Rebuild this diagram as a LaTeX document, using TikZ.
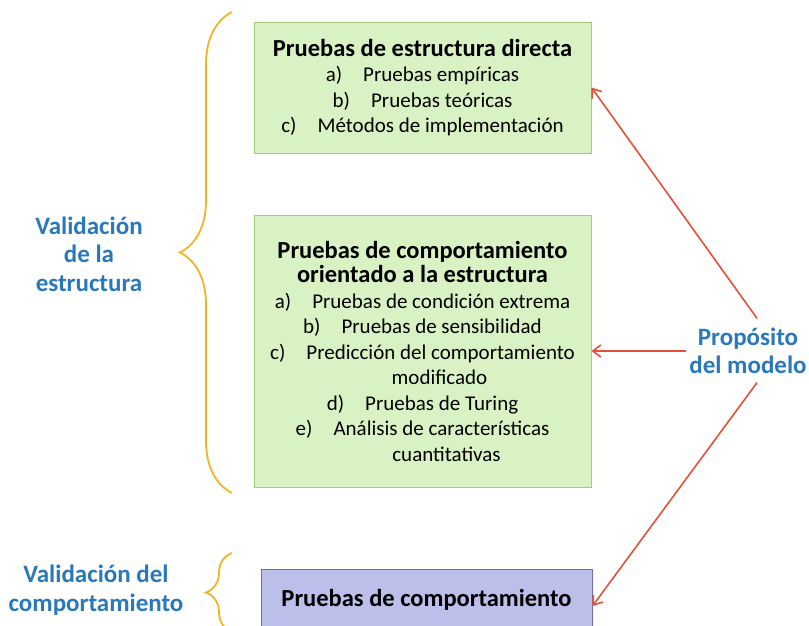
\documentclass[tikz,border=0pt]{standalone}
\usepackage{fontspec}
\setmainfont{Carlito}
\usepackage{xcolor}
\usepackage{tikz}
\usetikzlibrary{decorations.pathreplacing,positioning,arrows.meta}

\definecolor{boxgreen}{HTML}{D9F2C4}
\definecolor{edgegreen}{HTML}{A3CC7A}
\definecolor{boxlila}{HTML}{BBBFEA}
\definecolor{edgelila}{HTML}{6A6DAE}
\definecolor{bracecol}{HTML}{F2B420}
\definecolor{labelblue}{HTML}{2A78BC}
\definecolor{arrowred}{HTML}{E4503A}

\tikzset{
  greenbox/.style={draw=edgegreen, fill=boxgreen, line width=1pt, align=center,
    font=\fontsize{21}{25.5}\selectfont},
  lilabox/.style={draw=edgelila, fill=boxlila, line width=1pt, align=center,
    font=\fontsize{24.5}{28}\selectfont\bfseries},
  sidelabel/.style={text=labelblue, align=center, font=\fontsize{25}{28.5}\selectfont\bfseries},
  curly/.style={draw=bracecol, line width=1.8pt, decorate},
  redarrow/.style={draw=arrowred, line width=1.6pt, -{Straight Barb[length=8pt,width=12pt]}}
}
\newcommand{\boxtitle}[1]{{\fontsize{24.5}{28}\selectfont\bfseries #1}}

\begin{document}
\begin{tikzpicture}[x=1pt,y=-1pt]
    \useasboundingbox (0,0) rectangle (809,625);
    \clip (0,0) rectangle (809,625);
    % boxes
    \node[greenbox, minimum width=337pt, minimum height=131pt] (direct) at (422.5,87.5)
      {\boxtitle{Pruebas de estructura directa}\\
       a)\quad Pruebas empíricas\\
       b)\quad Pruebas teóricas\\
       c)\quad Métodos de implementación};
    \node[greenbox, minimum width=337pt, minimum height=272pt] (orient) at (422.5,351)
      {\boxtitle{Pruebas de comportamiento}\\[-1pt]
       \boxtitle{orientado a la estructura}\\
       a)\quad Pruebas de condición extrema\\
       b)\quad Pruebas de sensibilidad\\
       c)\quad Predicción del comportamiento\\
       \hspace*{34pt}modificado\\
       d)\quad Pruebas de Turing\\
       e)\quad Análisis de características\\
       \hspace*{48pt}cuantitativas};
    \node[lilabox, minimum width=331pt, minimum height=62pt] (behav) at (426.5,600)
      {Pruebas de comportamiento};
    % braces
    \draw[curly, decoration={brace, amplitude=52pt}] (232,493) -- (232,12);
    \draw[curly, decoration={brace, amplitude=26pt}] (232,632) -- (232,553);
    % labels
    \node[sidelabel] (valest) at (89,254) {Validación\\de la\\estructura};
    \node[sidelabel] (valcomp) at (96,590) {Validación del\\comportamiento};
    \node[sidelabel] (prop) at (748,351) {Propósito\\del modelo};
    % arrows
    \draw[redarrow] ([xshift=9pt,yshift=6pt]prop.north) -- (direct.east);
    \draw[redarrow] (prop.west) -- (orient.east);
    \draw[redarrow] ([xshift=9pt,yshift=-5pt]prop.south) -- ([yshift=-6pt]behav.east);
\end{tikzpicture}
\end{document}
